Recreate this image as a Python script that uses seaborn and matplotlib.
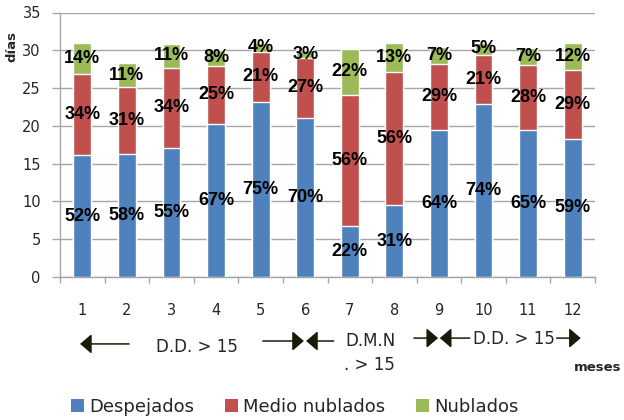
import matplotlib
matplotlib.use("Agg")
import matplotlib.pyplot as plt
import seaborn as sns
from matplotlib.patches import Patch
from matplotlib.ticker import FixedLocator

# dias por mes
meses = ["1", "2", "3", "4", "5", "6", "7", "8", "9", "10", "11", "12"]
despejados = [16.1, 16.3, 17.1, 20.3, 23.2, 21.1, 6.7, 9.5, 19.5, 22.9, 19.5, 18.3]
medio_nublados = [10.8, 8.8, 10.6, 7.6, 6.6, 7.9, 17.4, 17.6, 8.7, 6.5, 8.5, 9.1]
nublados = [4.1, 3.2, 3.1, 2.2, 1.2, 1.0, 6.1, 3.9, 2.2, 1.6, 2.3, 3.6]

pct_despejados = [52, 58, 55, 67, 75, 70, 22, 31, 64, 74, 65, 59]
pct_medio = [34, 31, 34, 25, 21, 27, 56, 56, 29, 21, 28, 29]
pct_nublados = [14, 11, 11, 8, 4, 3, 22, 13, 7, 5, 7, 12]

series_names = ["Despejados", "Medio nublados", "Nublados"]
colors = ["#4F81BD", "#C0504D", "#9BBB59"]
grid_color = "#a6a6a6"

sns.set_style("white")
plt.rcParams["font.family"] = ["DejaVu Sans"]

fig = plt.figure(figsize=(6.24, 4.2), dpi=100)
ax = fig.add_axes([60 / 624, 1 - 277 / 420, 535 / 624, 264.5 / 420])

tope_rojo = [a + b for a, b in zip(despejados, medio_nublados)]
total = [a + b for a, b in zip(tope_rojo, nublados)]

# barras apiladas dibujadas por capas
for heights, color in zip([total, tope_rojo, despejados], colors[::-1]):
    sns.barplot(x=meses, y=heights, color=color, width=0.4,
                saturation=1, ax=ax, zorder=3)

# etiquetas de porcentaje en el centro de cada tramo
bases = [[0] * 12, despejados, tope_rojo]
heights_all = [despejados, medio_nublados, nublados]
pcts = [pct_despejados, pct_medio, pct_nublados]
for base, h, p in zip(bases, heights_all, pcts):
    for i in range(len(meses)):
        ax.text(i, base[i] + h[i] / 2, f"{p[i]}%", ha="center", va="center",
                fontsize=13, fontweight="bold", family="Liberation Sans",
                color="black", zorder=5)

ax.set_xlim(-0.5, 11.5)
ax.set_ylim(0, 35)
ax.set_yticks(range(0, 36, 5))
ax.set_xlabel("")
ax.set_ylabel("")

ax.set_axisbelow(True)
ax.yaxis.grid(True, color=grid_color, linewidth=1.0)
ax.xaxis.grid(False)
for side in ["top", "right"]:
    ax.spines[side].set_visible(False)
for side in ["left", "bottom"]:
    ax.spines[side].set_color(grid_color)
    ax.spines[side].set_linewidth(1.0)

ax.xaxis.set_minor_locator(FixedLocator([i - 0.5 for i in range(13)]))
ax.tick_params(axis="x", which="major", length=0, pad=18.5, labelsize=10.5)
ax.tick_params(axis="x", which="minor", length=4.5, width=1.0,
               color=grid_color, direction="out", bottom=True)
ax.tick_params(axis="y", length=5.8, width=1.0, color=grid_color,
               direction="out", pad=8, labelsize=10.5, left=True)

ax.text(-0.09, 0.87, "días", transform=ax.transAxes, rotation=90,
        ha="center", va="center", fontsize=9.5, fontweight="bold")

# anotaciones bajo el eje x
trans = ax.get_xaxis_transform()
arrow_style = dict(arrowstyle="-|>,head_length=0.35,head_width=0.3",
                   color="#1a1a0a", lw=1.1, shrinkA=0, shrinkB=0,
                   mutation_scale=20)
arrows = [
    ((-0.05, -0.253), (1.05, -0.253)),
    ((4.97, -0.242), (4.05, -0.242)),
    ((5.02, -0.242), (5.64, -0.242)),
    ((7.98, -0.231), (7.44, -0.231)),
    ((8.02, -0.231), (8.69, -0.231)),
    ((11.18, -0.231), (10.64, -0.231)),
]
for tip, tail in arrows:
    ax.annotate("", xy=tip, xytext=tail, xycoords=trans, textcoords=trans,
                arrowprops=arrow_style, annotation_clip=False)

ax.text(2.57, -0.265, "D.D. > 15", transform=trans, ha="center",
        va="center", fontsize=12)
ax.text(6.47, -0.242, "D.M.N", transform=trans, ha="center",
        va="center", fontsize=12)
ax.text(6.45, -0.333, ". > 15", transform=trans, ha="center",
        va="center", fontsize=12)
ax.text(9.68, -0.234, "D.D. > 15", transform=trans, ha="center",
        va="center", fontsize=12)
ax.text(11.56, -0.344, "meses", transform=trans, ha="center",
        va="center", fontsize=9.5, fontweight="bold")

handles = [Patch(facecolor=c, edgecolor="none") for c in colors]
fig.legend(handles, series_names, loc="center", ncol=3,
           bbox_to_anchor=(295 / 624, 1 - 407 / 420), frameon=False,
           fontsize=13, handlelength=0.7, handleheight=0.7,
           handletextpad=0.3, columnspacing=1.7)

fig.savefig("out.png", dpi=100)
plt.close(fig)
